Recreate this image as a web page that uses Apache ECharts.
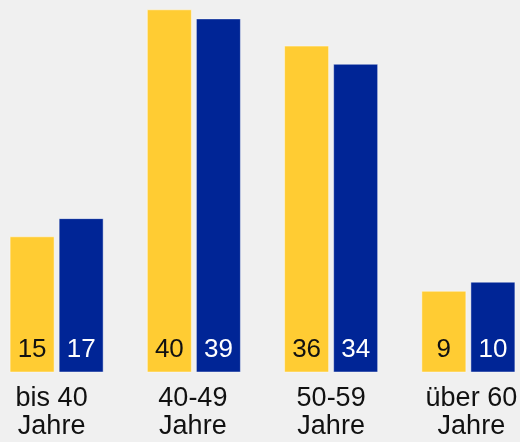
<!DOCTYPE html>
<html>
<head>
<meta charset="utf-8">
<script src="https://cdn.jsdelivr.net/npm/echarts@6/dist/echarts.min.js"></script>
<style>
  html, body { margin: 0; padding: 0; background: #f0f0f0; }
  #chart { width: 520px; height: 442px; }
</style>
</head>
<body>
<div id="chart"></div>
<script>
const categories = ['bis 40\nJahre', '40-49\nJahre', '50-59\nJahre', 'über 60\nJahre']
const seriesA = [15, 40, 36, 9]
const seriesB = [17, 39, 34, 10]

// the labels under the first and last group sit a little off centre
const labelPadding = [[0, 10, 0, 0], [0, 2, 0, 0], [0, 0, 0, 0], [0, 0, 0, 6]]

const chart = echarts.init(document.getElementById('chart'))
chart.setOption({
  backgroundColor: '#f0f0f0',
  animation: false,
  textStyle: { fontFamily: '"Liberation Sans", Arial, sans-serif' },
  grid: {
    left: -12,
    right: -17,
    top: 9.3,
    bottom: 69.5,
    containLabel: false,
    outerBoundsMode: 'none'
  },
  xAxis: {
    type: 'category',
    data: categories.map((c, i) => ({ value: c, textStyle: { padding: labelPadding[i] } })),
    axisLine: { show: false },
    axisTick: { show: false },
    axisLabel: {
      color: '#111',
      fontFamily: '"Liberation Sans", Arial, sans-serif',
      fontSize: 27,
      lineHeight: 28,
      margin: 12,
      interval: 0
    }
  },
  yAxis: {
    type: 'value',
    min: 0,
    max: 40,
    show: false,
    splitLine: { show: false }
  },
  series: [
    {
      type: 'bar',
      data: seriesA,
      barWidth: 45,
      barGap: '9%',
      itemStyle: {
        color: '#ffcc33',
        borderColor: 'rgba(255,255,255,0.45)',
        borderWidth: 1
      },
      label: {
        show: true,
        position: 'insideBottom',
        distance: 10,
        color: '#111',
        fontFamily: '"Liberation Sans", Arial, sans-serif',
        fontSize: 26
      }
    },
    {
      type: 'bar',
      data: seriesB,
      barWidth: 45,
      itemStyle: {
        color: '#002596',
        borderColor: 'rgba(255,255,255,0.45)',
        borderWidth: 1
      },
      label: {
        show: true,
        position: 'insideBottom',
        distance: 10,
        color: '#fff',
        fontFamily: '"Liberation Sans", Arial, sans-serif',
        fontSize: 26
      }
    }
  ]
})
</script>
</body>
</html>
